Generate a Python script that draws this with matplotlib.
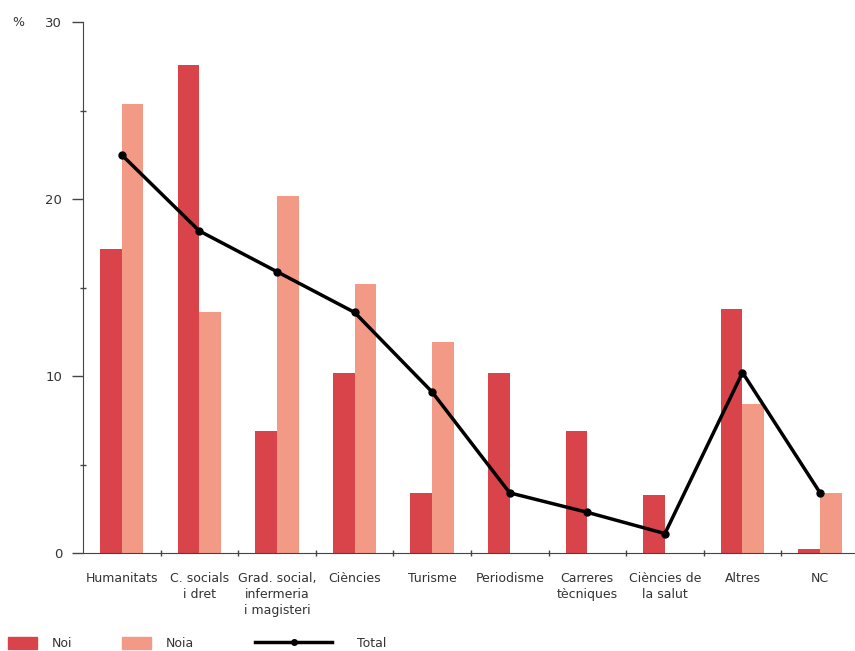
import numpy as np
import matplotlib
matplotlib.use("Agg")
import matplotlib.pyplot as plt
from matplotlib.patches import Patch
from matplotlib.lines import Line2D

categories = ["Humanitats", "C. socials\ni dret", "Grad. social,\ninfermeria\ni magisteri",
              "Ciències", "Turisme", "Periodisme", "Carreres\ntècniques",
              "Ciències de\nla salut", "Altres", "NC"]
noi = [17.2, 27.6, 6.9, 10.2, 3.4, 10.2, 6.9, 3.3, 13.8, 0.2]
noia = [25.4, 13.6, 20.2, 15.2, 11.9, 0.0, 0.0, 0.0, 8.4, 3.4]
total = [22.5, 18.2, 15.9, 13.6, 9.1, 3.4, 2.3, 1.1, 10.2, 3.4]

c_noi = "#d9434a"
c_noia = "#f39a86"
txt = "#333333"

plt.rcParams["font.family"] = ["DejaVu Sans"]

fig = plt.figure(figsize=(8.55, 6.51), dpi=100)
ax = fig.add_axes([0.097, 0.1505, 0.903, 0.8155])

x = np.arange(len(categories))
w = 0.28
ax.bar(x - w / 2, noi, w, color=c_noi, zorder=2)
ax.bar(x + w / 2, noia, w, color=c_noia, zorder=2)
ax.plot(x, total, color="black", lw=2.5, marker="o", ms=5, zorder=3)

ax.set_xlim(-0.5, 9.45)
ax.set_ylim(0, 30)
for s in ["top", "right"]:
    ax.spines[s].set_visible(False)
ax.spines["left"].set_color("#444444")
ax.spines["bottom"].set_color("#444444")

ax.set_yticks([0, 10, 20, 30])
ax.set_yticks([5, 15, 25], minor=True)
ax.tick_params(axis="y", which="major", length=8, width=1, colors="#444444",
               labelcolor=txt, labelsize=9.5, pad=7)
ax.tick_params(axis="y", which="minor", length=4, width=1, colors="#444444",
               direction="inout")

# category labels at centres, ticks at the boundaries
ax.set_xticks(x)
ax.set_xticklabels(categories, fontsize=9, color=txt, linespacing=1.3)
ax.tick_params(axis="x", which="major", length=0, pad=14)
ax.set_xticks(x[:-1] + 0.5, minor=True)
ax.tick_params(axis="x", which="minor", length=4, width=1, colors="#444444",
               direction="inout")

fig.text(0.014, 0.966, "%", fontsize=9, color=txt, va="center")

leg_kw = dict(frameon=False, fontsize=9, labelcolor=txt, loc="center left",
              handleheight=1.07, borderpad=0, borderaxespad=0)
fig.legend(handles=[Patch(color=c_noi, label="Noi")], handlelength=2.3,
           handletextpad=1.2, bbox_to_anchor=(0.0094, 0.011), **leg_kw)
fig.legend(handles=[Patch(color=c_noia, label="Noia")], handlelength=2.3,
           handletextpad=1.2, bbox_to_anchor=(0.1427, 0.011), **leg_kw)
fig.legend(handles=[Line2D([], [], color="black", lw=2.5, marker="o", ms=4,
                           label="Total")],
           handlelength=6.2, handletextpad=2.0,
           bbox_to_anchor=(0.298, 0.011), **leg_kw)

fig.savefig("out.png", dpi=100)
